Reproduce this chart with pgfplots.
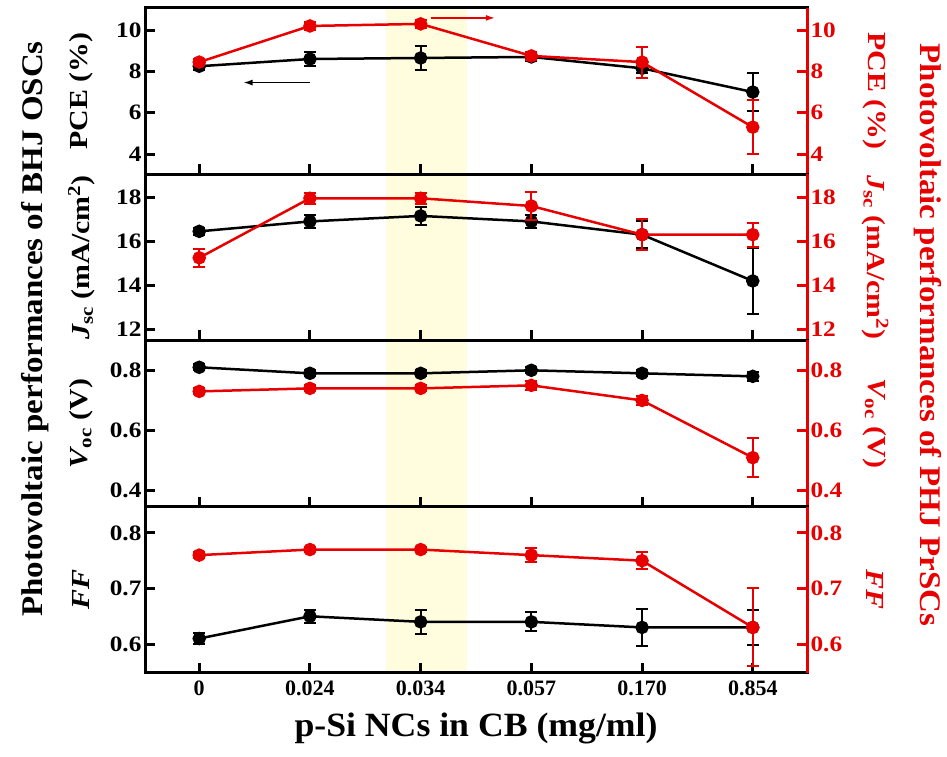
\documentclass[border=0pt]{standalone}
\usepackage{fontspec}
\setmainfont{Liberation Serif}
\usepackage{graphicx}
\usepackage{pgfplots}
\usepackage{pgfplotstable}
\pgfplotsset{compat=1.18}
\usetikzlibrary{arrows.meta}
\definecolor{pred}{RGB}{232,0,0}
\definecolor{band}{RGB}{255,253,222}

\pgfplotstableread{
x y e
0 8.25 0.2
1 8.6 0.35
2 8.65 0.6
3 8.7 0.2
4 8.15 0.25
5 7.0 0.9
}\pceB
\pgfplotstableread{
x y e
0 8.45 0.15
1 10.2 0.2
2 10.3 0.2
3 8.75 0.2
4 8.45 0.75
5 5.3 1.3
}\pceR
\pgfplotstableread{
x y e
0 16.45 0.15
1 16.9 0.3
2 17.15 0.4
3 16.9 0.3
4 16.3 0.6
5 14.2 1.5
}\jscB
\pgfplotstableread{
x y e
0 15.25 0.4
1 17.95 0.25
2 17.95 0.25
3 17.6 0.65
4 16.3 0.7
5 16.3 0.55
}\jscR
\pgfplotstableread{
x y e
0 0.81 0.01
1 0.79 0.01
2 0.79 0.01
3 0.80 0.01
4 0.79 0.01
5 0.78 0.015
}\vocB
\pgfplotstableread{
x y e
0 0.73 0.01
1 0.74 0.01
2 0.74 0.01
3 0.75 0.015
4 0.70 0.015
5 0.51 0.065
}\vocR
\pgfplotstableread{
x y e
0 0.61 0.01
1 0.65 0.012
2 0.64 0.022
3 0.64 0.017
4 0.63 0.033
5 0.63 0.032
}\ffB
\pgfplotstableread{
x y e
0 0.76 0.005
1 0.77 0.005
2 0.77 0.005
3 0.76 0.012
4 0.75 0.015
5 0.63 0.07
}\ffR

\newcommand{\lab}[1]{\scalebox{1.15}[1]{#1}}
\pgfplotsset{
  base/.style={width=662pt,height=166.25pt,scale only axis,anchor=south west,
    xmin=-0.49,xmax=5.49,xtick={0,1,2,3,4,5},
    /pgf/number format/assume math mode=true,
    tick label style={font=\fontsize{22}{26}\selectfont\bfseries},
    yticklabel={\scalebox{1.15}[1]{\pgfmathprintnumber{\tick}}},
    label style={font=\fontsize{26}{30}\selectfont\bfseries},
    major tick length=10pt, tick align=inside, clip=true},
  leftax/.style={base, axis on top, axis line style={line width=3pt,black},
    tick style={line width=3pt,black},
    xtick pos=left, ytick pos=left, xticklabels={},
    ylabel style={at={(axis description cs:-0.096,0.5)},anchor=center}},
  rightax/.style={base, axis x line=none, axis y line*=right, ytick pos=right,
    y axis line style={-,line width=3pt,pred}, ytick style={line width=3pt,pred},
    yticklabel style={pred},
    ylabel style={pred,at={(axis description cs:1.1027,0.5)},anchor=center,rotate=180}},
  ser/.style={line width=2.5pt, mark=*, mark size=5.5pt, mark options={solid},
    error bars/y dir=both, error bars/y explicit,
    error bars/error bar style={line width=2pt},
    error bars/error mark options={rotate=90,mark size=6pt,line width=2pt}},
}

\begin{document}
\begin{tikzpicture}
\useasboundingbox (0,0) rectangle (947pt,757pt);

% Panel 1: PCE
\begin{axis}[leftax, at={(145pt,582.75pt)}, ymin=3.02, ymax=11.07, ytick={4,6,8,10},
  ylabel={\lab{PCE (\%)}}]
\fill[band] (axis cs:1.69,3.02) rectangle (axis cs:2.42,11.07);
\addplot[ser, black, mark options={fill=black}] table[x=x,y=y,y error=e] {\pceB};
\draw[-{Latex[length=9pt,width=6pt]},line width=1.3pt,black] (axis cs:1.0,7.46) -- (axis cs:0.40,7.46);
\end{axis}
\begin{axis}[rightax, at={(145pt,582.75pt)}, ymin=3.02, ymax=11.07, ytick={4,6,8,10},
  ylabel={\lab{PCE (\%)}}]
\addplot[ser, pred, mark options={fill=pred}] table[x=x,y=y,y error=e] {\pceR};
\draw[-{Latex[length=9pt,width=6pt]},line width=1.3pt,pred] (axis cs:2.09,10.59) -- (axis cs:2.67,10.59);
\end{axis}

% Panel 2: Jsc
\begin{axis}[leftax, at={(145pt,416.5pt)}, ymin=11.5, ymax=19.04, ytick={12,14,16,18},
  ylabel={\lab{{\itshape J}\textsubscript{sc} (mA/cm\textsuperscript{2})}}]
\fill[band] (axis cs:1.69,11.5) rectangle (axis cs:2.42,19.04);
\addplot[ser, black, mark options={fill=black}] table[x=x,y=y,y error=e] {\jscB};
\end{axis}
\begin{axis}[rightax, at={(145pt,416.5pt)}, ymin=11.5, ymax=19.04, ytick={12,14,16,18},
  ylabel={\lab{{\itshape J}\textsubscript{sc} (mA/cm\textsuperscript{2})}}]
\addplot[ser, pred, mark options={fill=pred}] table[x=x,y=y,y error=e] {\jscR};
\end{axis}

% Panel 3: Voc
\begin{axis}[leftax, at={(145pt,250.25pt)}, ymin=0.347, ymax=0.899, ytick={0.4,0.6,0.8},
  ylabel={\lab{{\itshape V}\textsubscript{oc} (V)}}]
\fill[band] (axis cs:1.69,0.347) rectangle (axis cs:2.42,0.899);
\addplot[ser, black, mark options={fill=black}] table[x=x,y=y,y error=e] {\vocB};
\end{axis}
\begin{axis}[rightax, at={(145pt,250.25pt)}, ymin=0.347, ymax=0.899, ytick={0.4,0.6,0.8},
  ylabel={\lab{{\itshape V}\textsubscript{oc} (V)}}]
\addplot[ser, pred, mark options={fill=pred}] table[x=x,y=y,y error=e] {\vocR};
\end{axis}

% Panel 4: FF
\begin{axis}[leftax, at={(145pt,84pt)}, ymin=0.548, ymax=0.847, ytick={0.6,0.7,0.8},
  ylabel={\lab{{\itshape FF}}},
  xticklabels={0,0.024,0.034,0.057,0.170,0.854},
  xticklabel style={yshift=-4pt}]
\fill[band] (axis cs:1.69,0.548) rectangle (axis cs:2.42,0.847);
\addplot[ser, black, mark options={fill=black}] table[x=x,y=y,y error=e] {\ffB};
\end{axis}
\begin{axis}[rightax, at={(145pt,84pt)}, ymin=0.548, ymax=0.847, ytick={0.6,0.7,0.8},
  ylabel={\lab{{\itshape FF}}}]
\addplot[ser, pred, mark options={fill=pred}] table[x=x,y=y,y error=e] {\ffR};
\end{axis}

\node[font=\fontsize{34}{40}\selectfont\bfseries] at (476pt,29pt) {\scalebox{1.05}[1]{p-Si NCs in CB (mg/ml)}};
\node[font=\fontsize{30}{36}\selectfont\bfseries, rotate=90] at (35pt,428pt) {\scalebox{1.1}[1]{Photovoltaic performances of BHJ OSCs}};
\node[font=\fontsize{30}{36}\selectfont\bfseries, rotate=-90, text=pred] at (928pt,422pt) {\scalebox{1.1}[1]{Photovoltaic performances of PHJ PrSCs}};
\end{tikzpicture}
\end{document}
